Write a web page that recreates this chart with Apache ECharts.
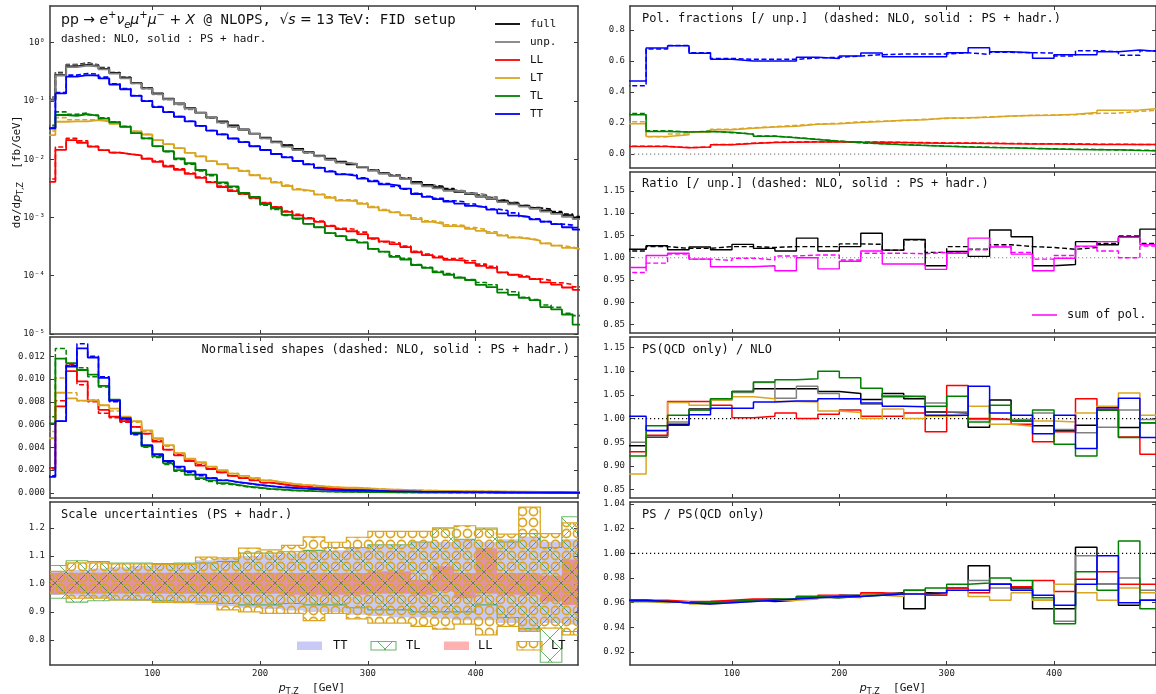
<!DOCTYPE html>
<html>
<head>
<meta charset="utf-8">
<script src="https://cdn.jsdelivr.net/npm/echarts@6/dist/echarts.min.js"></script>
<style>
html,body{margin:0;padding:0;background:#fff;}
#chart{width:1156px;height:694px;}
</style>
</head>
<body>
<div id="chart"></div>
<script>
// ---------- binning ----------
const edges10 = [0,10,20,30,40,50,60,70,80,90,100,110,120,130,140,150,160,170,180,190,200,210,220,230,240,250,260,270,280,290,300,310,320,330,340,350,360,370,380,390,400,410,420,430,440,450,460,470,480,490,500];
const edges20 = [0,20,40,60,80,100,120,140,160,180,200,220,240,260,280,300,320,340,360,380,400,420,440,460,480,500];

// ---------- dσ/dp_T,Z [fb/GeV], 10 GeV bins (PS + hadr. / NLO) ----------
const fullPS  = [0.105,0.278,0.392,0.417,0.398,0.355,0.302,0.251,0.204,0.166,0.135,0.110,0.0912,0.0759,0.0631,0.0525,0.0447,0.0380,0.0324,0.0275,0.0234,0.0200,0.0174,0.0151,0.0132,0.0115,0.0102,0.00912,0.00813,0.00724,0.00646,0.00575,0.00513,0.00457,0.00407,0.00363,0.00331,0.00302,0.00275,0.00251,0.00229,0.00209,0.00191,0.00174,0.00158,0.00145,0.00132,0.00120,0.00110,0.00100];
const fullNLO = [0.116,0.307,0.424,0.451,0.419,0.374,0.308,0.256,0.204,0.166,0.133,0.108,0.0891,0.0742,0.0617,0.0513,0.0437,0.0371,0.0319,0.0270,0.0231,0.0197,0.0174,0.0151,0.0130,0.0113,0.0101,0.00907,0.00830,0.00739,0.00659,0.00587,0.00537,0.00479,0.00403,0.00359,0.00343,0.00313,0.00288,0.00263,0.00242,0.00221,0.00199,0.00181,0.00160,0.00146,0.00139,0.00126,0.00115,0.00104];
const unpPS   = [0.103,0.273,0.382,0.406,0.391,0.349,0.295,0.245,0.200,0.163,0.131,0.107,0.0893,0.0743,0.0622,0.0517,0.0428,0.0364,0.0319,0.0271,0.0228,0.0195,0.0165,0.0143,0.0130,0.0113,0.0098,0.00876,0.00828,0.00737,0.00637,0.00567,0.00511,0.00456,0.00383,0.00342,0.00316,0.00288,0.00280,0.00256,0.00232,0.00212,0.00184,0.00168,0.00154,0.00141,0.00126,0.00115,0.00103,0.00094];
const unpNLO  = [0.113,0.299,0.413,0.438,0.409,0.365,0.301,0.250,0.200,0.163,0.129,0.105,0.0863,0.0718,0.0620,0.0515,0.0417,0.0354,0.0315,0.0268,0.0228,0.0195,0.0166,0.0144,0.0129,0.0112,0.0097,0.00871,0.00833,0.00741,0.00653,0.00582,0.00532,0.00475,0.00399,0.00356,0.00329,0.00300,0.00287,0.00263,0.00247,0.00226,0.00197,0.00180,0.00163,0.00149,0.00129,0.00117,0.00107,0.00098];
const llPS    = [0.0041,0.0145,0.0212,0.0192,0.0165,0.0143,0.0130,0.0122,0.0116,0.0102,0.0090,0.0075,0.0066,0.0056,0.0048,0.0040,0.00334,0.00284,0.00255,0.00217,0.00176,0.00150,0.00125,0.00109,0.00096,0.00084,0.00071,0.00063,0.00058,0.00052,0.00044,0.00039,0.00035,0.00031,0.000253,0.000226,0.000205,0.000187,0.000182,0.000166,0.000148,0.000136,0.000114,0.000104,0.0000955,0.0000874,0.0000769,0.0000702,0.0000628,0.0000573];
const llNLO   = [0.00458,0.0162,0.0228,0.0207,0.0166,0.0143,0.0130,0.0122,0.0117,0.0103,0.00934,0.00778,0.00683,0.00579,0.00493,0.00411,0.00347,0.00295,0.00263,0.00223,0.00180,0.00153,0.00129,0.00113,0.00099,0.00087,0.00073,0.00065,0.00062,0.00056,0.00043,0.00038,0.000364,0.000322,0.000264,0.000235,0.000216,0.000197,0.000199,0.000181,0.000158,0.000145,0.000114,0.000104,0.0000971,0.0000888,0.0000832,0.0000760,0.0000706,0.0000644];
const ltPS    = [0.026,0.044,0.0445,0.0445,0.047,0.0445,0.0405,0.0362,0.0300,0.0266,0.0213,0.0182,0.0155,0.0129,0.0112,0.0093,0.0082,0.0070,0.00625,0.00531,0.00465,0.00398,0.00347,0.00300,0.00283,0.00246,0.00218,0.00194,0.00192,0.00171,0.00149,0.00133,0.00122,0.00109,0.00094,0.00084,0.00078,0.00071,0.00070,0.00064,0.00059,0.00054,0.00049,0.00045,0.00043,0.00040,0.00036,0.00033,0.00030,0.00028];
const ltNLO   = [0.0306,0.0518,0.0475,0.0475,0.0472,0.0447,0.0410,0.0366,0.0301,0.0267,0.0212,0.0181,0.0155,0.0129,0.0112,0.0093,0.0082,0.0070,0.0064,0.00543,0.00477,0.00408,0.00361,0.00312,0.00288,0.00251,0.00227,0.00202,0.00199,0.00177,0.00154,0.00137,0.00124,0.00110,0.00099,0.00088,0.00082,0.00075,0.00073,0.00067,0.00062,0.00057,0.00050,0.00046,0.00044,0.00041,0.00036,0.00033,0.00031,0.00029];
const tlPS    = [0.034,0.0575,0.0558,0.0593,0.0555,0.0496,0.0431,0.0358,0.0280,0.0228,0.0168,0.0137,0.0103,0.00854,0.00653,0.00543,0.00402,0.00342,0.00265,0.00225,0.00169,0.00144,0.00111,0.00096,0.00078,0.00068,0.00054,0.00048,0.00041,0.00037,0.00029,0.00026,0.00021,0.00019,0.000153,0.000137,0.000114,0.000104,0.0000924,0.0000845,0.0000696,0.0000636,0.0000515,0.0000470,0.0000416,0.0000381,0.0000290,0.0000265,0.0000216,0.0000145];
const tlNLO   = [0.0384,0.0649,0.0589,0.0626,0.0573,0.0512,0.0440,0.0366,0.0279,0.0228,0.0165,0.0135,0.00994,0.00824,0.00627,0.00522,0.00385,0.00328,0.00250,0.00213,0.00162,0.00138,0.00108,0.00094,0.00078,0.00068,0.00054,0.00048,0.00042,0.000375,0.000288,0.000258,0.00022,0.000199,0.000155,0.000139,0.000119,0.000109,0.0000944,0.0000863,0.0000765,0.0000699,0.0000581,0.0000530,0.0000425,0.0000389,0.0000314,0.0000287,0.0000227,0.0000207];
const ttPS    = [0.034,0.135,0.261,0.278,0.273,0.244,0.192,0.159,0.122,0.0996,0.0786,0.0642,0.0536,0.0446,0.0373,0.0310,0.0267,0.0227,0.0197,0.0167,0.0144,0.0123,0.0108,0.00932,0.00816,0.00710,0.00615,0.00550,0.00520,0.00463,0.00417,0.00371,0.00351,0.00313,0.00253,0.00226,0.00207,0.00188,0.00173,0.00158,0.00149,0.00136,0.00118,0.00108,0.00102,0.00093,0.00085,0.00077,0.00068,0.00062];
const ttNLO   = [0.0352,0.140,0.278,0.296,0.288,0.257,0.198,0.164,0.124,0.101,0.0800,0.0653,0.0538,0.0448,0.0374,0.0311,0.0267,0.0227,0.0197,0.0167,0.0144,0.0123,0.0109,0.00938,0.00827,0.00719,0.00624,0.00558,0.00537,0.00478,0.00430,0.00383,0.00342,0.00305,0.00260,0.00232,0.00214,0.00194,0.00186,0.00170,0.00154,0.00140,0.00131,0.00120,0.00104,0.00095,0.00085,0.00077,0.00074,0.00067];

// ---------- normalised shapes, 10 GeV bins ----------
const nLLps  = [0.0022,0.0076,0.0107,0.0098,0.0081,0.0073,0.0067,0.0063,0.0058,0.0052,0.0045,0.0038,0.0033,0.0028,0.0024,0.0021,0.0018,0.0015,0.0013,0.0011,0.0009,0.00078,0.00065,0.00056,0.00049,0.00043,0.00037,0.00032,0.00029,0.00026,0.00022,0.0002,0.00018,0.00016,0.00013,0.00012,0.0001,0.000095,0.000092,0.000084,0.000075,0.000069,0.000058,0.000053,0.000048,0.000044,0.000039,0.000035,0.000032,0.000029];
const nLLnlo = [0.0021,0.0081,0.0113,0.0095,0.0080,0.0070,0.0066,0.0062,0.0058,0.0052,0.0046,0.0038,0.0034,0.0029,0.0025,0.0021,0.0018,0.0015,0.0013,0.0011,0.0009,0.00077,0.00065,0.00057,0.0005,0.00044,0.00037,0.00033,0.00031,0.00028,0.00022,0.00019,0.00018,0.00016,0.00013,0.00012,0.00011,0.0001,0.0001,0.00009,0.00008,0.000073,0.000057,0.000052,0.000049,0.000045,0.000042,0.000038,0.000035,0.000032];
const nLTps  = [0.0048,0.0088,0.0083,0.0081,0.0081,0.0077,0.0074,0.0067,0.0063,0.0055,0.0048,0.0042,0.0035,0.0030,0.0027,0.0023,0.0020,0.0017,0.0015,0.0013,0.0011,0.00095,0.00082,0.00071,0.00066,0.00058,0.00051,0.00045,0.00045,0.0004,0.00035,0.00031,0.00028,0.00025,0.00022,0.0002,0.00018,0.00017,0.00016,0.00015,0.00014,0.00013,0.00011,0.0001,0.0001,0.000093,0.000084,0.000077,0.00007,0.000065];
const nLTnlo = [0.0054,0.0101,0.0088,0.0081,0.0082,0.0077,0.0072,0.0066,0.0062,0.0054,0.0047,0.0041,0.0035,0.0030,0.0026,0.0022,0.0019,0.0017,0.0015,0.0013,0.0011,0.00094,0.00083,0.00072,0.00066,0.00058,0.00052,0.00046,0.00046,0.00041,0.00035,0.00031,0.00028,0.00025,0.00023,0.0002,0.00019,0.00017,0.00017,0.00015,0.00014,0.00013,0.00012,0.00011,0.0001,0.000094,0.000083,0.000076,0.000071,0.000067];
const nTLps  = [0.0061,0.0118,0.0114,0.0108,0.0104,0.0094,0.0082,0.0066,0.0053,0.0041,0.0032,0.0026,0.0020,0.0016,0.0013,0.0011,0.00085,0.00070,0.00055,0.00046,0.00035,0.00030,0.00023,0.0002,0.00016,0.00014,0.00011,0.0001,0.000085,0.000077,0.00006,0.000054,0.000044,0.00004,0.000032,0.000028,0.000024,0.000021,0.000019,0.000017,0.000014,0.000013,0.000011,0.00001,0.0000086,0.0000079,0.000006,0.0000055,0.0000045,0.000003];
const nTLnlo = [0.0067,0.0127,0.0112,0.0110,0.0102,0.0093,0.0081,0.0065,0.0052,0.0040,0.0031,0.0025,0.0019,0.0016,0.0012,0.001,0.00077,0.00065,0.0005,0.00042,0.00032,0.00027,0.00021,0.00018,0.00015,0.00013,0.0001,0.000093,0.000081,0.000072,0.000056,0.00005,0.000043,0.000039,0.00003,0.000027,0.000023,0.000021,0.000018,0.000017,0.000015,0.000014,0.000011,0.00001,0.0000082,0.0000075,0.0000061,0.0000056,0.0000044,0.000004];
const nTTps  = [0.0014,0.0063,0.0111,0.0127,0.0119,0.0101,0.0081,0.0065,0.0052,0.0042,0.0034,0.0028,0.0023,0.0019,0.0016,0.0013,0.0011,0.00095,0.00083,0.0007,0.00059,0.00051,0.00045,0.00039,0.00034,0.00029,0.00025,0.00023,0.00021,0.00019,0.00017,0.00015,0.00014,0.00013,0.0001,0.000093,0.000085,0.000077,0.000071,0.000065,0.000061,0.000056,0.000048,0.000044,0.000042,0.000038,0.000035,0.000032,0.000028,0.000025];
const nTTnlo = [0.0015,0.0063,0.0112,0.0131,0.0120,0.0102,0.0080,0.0064,0.0051,0.0041,0.0033,0.0027,0.0022,0.0018,0.0015,0.0013,0.0011,0.00093,0.0008,0.00068,0.00059,0.0005,0.00045,0.00039,0.00034,0.0003,0.00026,0.00023,0.00022,0.0002,0.00018,0.00016,0.00014,0.00013,0.00011,0.000095,0.000088,0.00008,0.000076,0.00007,0.000063,0.000058,0.000054,0.000049,0.000043,0.000039,0.000035,0.000031,0.00003,0.000027];

// ---------- scale-uncertainty envelopes (PS + hadr.), 20 GeV bins ----------
const uncTTlo = [0.960,0.955,0.950,0.945,0.940,0.935,0.930,0.925,0.920,0.915,0.910,0.905,0.900,0.900,0.890,0.885,0.880,0.880,0.875,0.870,0.870,0.860,0.830,0.860,0.855];
const uncTThi = [1.045,1.050,1.055,1.060,1.065,1.070,1.075,1.085,1.090,1.100,1.105,1.110,1.120,1.120,1.130,1.140,1.140,1.150,1.150,1.160,1.150,1.160,1.170,1.150,1.160];
const uncLLlo = [0.965,0.965,0.965,0.965,0.965,0.965,0.965,0.965,0.965,0.965,0.965,0.961,0.961,0.961,0.961,0.965,0.965,0.961,0.973,0.949,0.965,0.961,0.961,0.937,0.925];
const uncLLhi = [1.040,1.040,1.040,1.040,1.040,1.040,1.040,1.040,1.040,1.040,1.040,1.039,1.039,1.039,1.039,1.045,1.045,1.015,1.063,1.039,1.128,1.039,1.039,1.030,1.087];
const uncTLlo = [0.949,0.935,0.940,0.943,0.943,0.940,0.935,0.935,0.930,0.925,0.925,0.930,0.925,0.925,0.915,0.907,0.907,0.900,0.900,0.900,0.925,0.880,0.840,0.720,0.830];
const uncTLhi = [1.066,1.083,1.080,1.075,1.075,1.073,1.075,1.075,1.080,1.110,1.110,1.115,1.120,1.130,1.130,1.140,1.140,1.150,1.200,1.160,1.200,1.150,1.180,1.130,1.240];
const uncLTlo = [0.965,0.949,0.949,0.943,0.943,0.934,0.934,0.934,0.907,0.900,0.895,0.895,0.869,0.895,0.875,0.860,0.860,0.848,0.838,0.856,0.818,0.848,0.830,0.842,0.818];
const uncLThi = [1.045,1.075,1.075,1.072,1.072,1.070,1.070,1.096,1.093,1.128,1.122,1.138,1.168,1.149,1.167,1.188,1.188,1.188,1.200,1.208,1.196,1.178,1.275,1.180,1.218];

// ---------- polarisation fractions (/ unp.), 20 GeV bins ----------
const fLLps  = [0.049,0.049,0.040,0.045,0.060,0.068,0.074,0.076,0.078,0.080,0.077,0.076,0.074,0.072,0.070,0.069,0.068,0.066,0.065,0.065,0.064,0.062,0.062,0.061,0.061];
const fLLnlo = [0.050,0.050,0.042,0.044,0.062,0.070,0.076,0.078,0.080,0.080,0.078,0.077,0.075,0.074,0.072,0.071,0.070,0.068,0.067,0.066,0.066,0.064,0.063,0.062,0.062];
const fLTps  = [0.195,0.113,0.124,0.142,0.156,0.166,0.174,0.180,0.192,0.196,0.204,0.210,0.218,0.222,0.232,0.234,0.238,0.245,0.248,0.250,0.256,0.268,0.282,0.284,0.294];
const fLTnlo = [0.208,0.112,0.130,0.144,0.160,0.170,0.177,0.185,0.194,0.198,0.208,0.212,0.216,0.224,0.230,0.232,0.240,0.244,0.250,0.252,0.254,0.262,0.264,0.276,0.284];
const fTLps  = [0.253,0.146,0.142,0.146,0.140,0.128,0.115,0.105,0.094,0.083,0.074,0.067,0.060,0.055,0.050,0.046,0.042,0.040,0.036,0.033,0.030,0.028,0.027,0.023,0.021];
const fTLnlo = [0.262,0.150,0.142,0.148,0.138,0.130,0.116,0.106,0.095,0.084,0.072,0.067,0.062,0.056,0.051,0.047,0.044,0.040,0.037,0.034,0.031,0.030,0.026,0.025,0.022];
const fTTps  = [0.472,0.684,0.699,0.650,0.611,0.600,0.600,0.600,0.624,0.617,0.633,0.652,0.628,0.628,0.628,0.654,0.686,0.660,0.654,0.618,0.641,0.641,0.660,0.671,0.660];
const fTTnlo = [0.440,0.678,0.700,0.654,0.617,0.611,0.611,0.611,0.620,0.624,0.633,0.641,0.645,0.645,0.645,0.654,0.643,0.656,0.654,0.651,0.633,0.667,0.660,0.637,0.667];

// ---------- ratios to unpolarised, 20 GeV bins ----------
const rFullPS  = [1.019,1.027,1.018,1.024,1.018,1.030,1.021,1.015,1.044,1.015,1.025,1.055,1.017,1.041,0.982,1.014,1.003,1.062,1.047,0.982,0.985,1.036,1.029,1.047,1.064];
const rFullNLO = [1.015,1.025,1.021,1.021,1.025,1.025,1.023,1.025,1.025,1.025,1.031,1.030,1.017,1.040,1.012,1.025,1.019,1.029,1.025,1.023,1.019,1.023,1.032,1.049,1.032];
const rSumPS   = [0.978,1.005,1.010,0.997,0.980,0.980,0.982,0.971,1.000,0.975,0.992,1.015,0.986,0.986,0.974,1.010,1.044,1.024,1.008,0.971,0.999,1.026,1.036,1.046,1.029];
const rSumNLO  = [0.967,0.988,1.008,0.997,0.994,0.999,0.995,1.004,1.006,1.006,0.995,1.010,1.010,1.009,1.012,1.010,1.018,1.026,1.012,0.997,1.005,1.025,1.015,1.000,1.026];

// ---------- PS(QCD only) / NLO, 20 GeV bins ----------
const qFull = [0.943,0.961,0.988,1.020,1.041,1.057,1.063,1.063,1.063,1.057,1.053,1.040,1.053,1.042,1.014,1.012,0.982,1.039,0.995,0.985,0.975,0.986,1.018,0.981,0.991];
const qUnp  = [0.950,0.963,0.993,1.018,1.039,1.055,1.076,1.043,1.068,1.053,1.042,1.030,1.048,1.046,1.033,1.014,0.998,0.998,0.998,1.012,0.977,0.970,0.982,1.018,0.998];
const qLL   = [0.930,0.965,1.036,1.036,1.028,1.002,1.005,1.012,1.000,1.009,1.018,1.005,1.005,1.012,0.972,1.070,1.000,0.998,0.988,0.951,0.972,1.042,1.023,0.961,0.925];
const qLT   = [0.883,0.974,1.034,1.028,1.039,1.046,1.042,1.036,1.035,1.016,1.013,1.000,1.020,1.000,1.005,1.007,1.026,0.988,0.984,0.995,0.993,1.012,1.026,1.054,1.007];
const qTL   = [0.921,0.985,1.007,1.018,1.042,1.057,1.077,1.082,1.084,1.100,1.086,1.064,1.046,1.047,1.026,1.047,0.993,1.028,0.995,1.018,0.946,0.921,1.018,0.960,0.991];
const qTT   = [1.005,0.975,0.986,1.008,1.022,1.022,1.035,1.037,1.037,1.042,1.042,1.033,1.026,1.025,1.007,1.007,1.068,1.012,1.007,0.968,1.007,0.937,1.023,1.043,0.960];

// ---------- PS / PS(QCD only), 20 GeV bins ----------
const hFull = [0.962,0.961,0.960,0.959,0.961,0.962,0.961,0.962,0.965,0.964,0.966,0.967,0.968,0.955,0.968,0.972,0.990,0.975,0.972,0.955,0.955,1.005,0.975,0.958,0.962];
const hUnp  = [0.962,0.961,0.960,0.960,0.961,0.962,0.962,0.963,0.964,0.964,0.965,0.967,0.967,0.967,0.966,0.972,0.978,0.972,0.970,0.962,0.945,0.998,0.975,0.980,0.970];
const hLL   = [0.962,0.962,0.961,0.961,0.962,0.963,0.963,0.962,0.964,0.966,0.965,0.968,0.967,0.970,0.966,0.972,0.968,0.975,0.973,0.978,0.969,0.979,0.985,0.975,0.975];
const hLT   = [0.961,0.960,0.961,0.959,0.960,0.961,0.962,0.962,0.963,0.965,0.964,0.966,0.965,0.967,0.968,0.970,0.965,0.962,0.968,0.962,0.975,0.968,0.962,0.972,0.968];
const hTL   = [0.961,0.961,0.960,0.960,0.961,0.962,0.963,0.963,0.965,0.964,0.965,0.966,0.967,0.970,0.972,0.975,0.976,0.980,0.978,0.964,0.943,0.985,0.970,1.010,0.955];
const hTT   = [0.962,0.961,0.960,0.959,0.960,0.961,0.962,0.963,0.964,0.965,0.965,0.966,0.967,0.967,0.968,0.970,0.970,0.975,0.970,0.966,0.958,0.975,0.998,0.960,0.962];

// ---------- axis ticks ----------
const xTicks = [100,200,300,400];
const yTicksSpec  = [1e-5,1e-4,1e-3,1e-2,1e-1,1];
const yTicksNorm  = [0,0.002,0.004,0.006,0.008,0.010,0.012];
const yTicksUnc   = [0.8,0.9,1.0,1.1,1.2];
const yTicksFrac  = [0,0.2,0.4,0.6,0.8];
const yTicksRatio = [0.85,0.90,0.95,1.00,1.05,1.10,1.15];
const yTicksHad   = [0.92,0.94,0.96,0.98,1.00,1.02,1.04];

// ---------- style ----------
const MONO = '"DejaVu Sans Mono", monospace';
const SANS = '"DejaVu Sans", sans-serif';
const FRAME = '#3a3a3a';
const C = {full:'#000000', unp:'#808080', LL:'#ff0000', LT:'#daa520', TL:'#008000', TT:'#0000ff', sum:'#ff00ff'};
const DASH = [5, 2.6];

const SUP = {'0':'\u2070','1':'\u00b9','2':'\u00b2','3':'\u00b3','4':'\u2074','5':'\u2075','6':'\u2076','-':'\u207b'};
function logLabel(v){
  const e = Math.round(Math.log10(v));
  return '10' + String(e).split('').map(c => SUP[c]).join('');
}

const panels = [
  {left:50,  top:6,   width:528, height:328, log:true, min:1e-5, max:4.27, ticks:yTicksSpec, fmt:logLabel, xl:false},
  {left:50,  top:337, width:528, height:161, min:-0.00045, max:0.0137, ticks:yTicksNorm, fmt:v=>v.toFixed(3), xl:false},
  {left:50,  top:502, width:528, height:163, min:0.71, max:1.293, ticks:yTicksUnc, fmt:v=>v.toFixed(1), xl:true},
  {left:630, top:6,   width:526, height:162, min:-0.09, max:0.955, ticks:yTicksFrac, fmt:v=>v.toFixed(1), xl:false},
  {left:630, top:172, width:526, height:161, min:0.8315, max:1.192, ticks:yTicksRatio, fmt:v=>v.toFixed(2), xl:false},
  {left:630, top:337, width:526, height:161, min:0.8326, max:1.172, ticks:yTicksRatio, fmt:v=>v.toFixed(2), xl:false},
  {left:630, top:502, width:526, height:163, min:0.9095, max:1.0416, ticks:yTicksHad, fmt:v=>v.toFixed(2), xl:true}
];

const grids = [], xAxes = [], yAxes = [];
panels.forEach((p, gi) => {
  grids.push({left:p.left, top:p.top, width:p.width, height:p.height, containLabel:false});
  const line = {show:true, onZero:false, lineStyle:{color:FRAME, width:1.5}};
  const tick = vals => ({show:true, inside:true, length:4, customValues:vals, lineStyle:{color:FRAME, width:1}});
  const lab = (show, vals, fmt, margin) => ({show, customValues:vals, formatter:fmt, margin, fontSize:9, color:'#222', fontFamily:MONO});
  xAxes.push({type:'value', gridIndex:gi, position:'bottom', min:5, max:495, axisLine:line, splitLine:{show:false},
              axisTick:tick(xTicks), axisLabel:lab(p.xl, xTicks, v=>String(v), 4)});
  xAxes.push({type:'value', gridIndex:gi, position:'top', min:5, max:495, axisLine:line, splitLine:{show:false},
              axisTick:tick(xTicks), axisLabel:{show:false}});
  const ytype = p.log ? 'log' : 'value';
  yAxes.push({type:ytype, logBase:10, gridIndex:gi, position:'left', min:p.min, max:p.max, axisLine:line, splitLine:{show:false},
              axisTick:tick(p.ticks), axisLabel:lab(true, p.ticks, p.fmt, 5)});
  yAxes.push({type:ytype, logBase:10, gridIndex:gi, position:'right', min:p.min, max:p.max, axisLine:line, splitLine:{show:false},
              axisTick:tick(p.ticks), axisLabel:{show:false}});
});

// histogram outline: one point per bin edge, drawn as an end-step line
function stepPoints(edges, vals){
  const pts = vals.map((v, i) => [edges[i], v]);
  pts.push([edges[vals.length], vals[vals.length - 1]]);
  return pts;
}
function hist(gi, edges, vals, color, dashed, width, z){
  return {
    type:'line', xAxisIndex:2*gi, yAxisIndex:2*gi, data:stepPoints(edges, vals), step:'end',
    symbol:'none', showSymbol:false, silent:true, animation:false, clip:true, z:z || 2,
    lineStyle:{color, width:width || 1.5, type: dashed ? DASH : 'solid', cap:'butt'}
  };
}
function refLine(gi, yv, color){
  return {
    type:'line', xAxisIndex:2*gi, yAxisIndex:2*gi, data:[[5, yv],[495, yv]], symbol:'none', silent:true, animation:false, z:1,
    lineStyle:{color, width:1.2, type:[1.2, 2.8]}
  };
}

// hatch tiles for the uncertainty envelopes
function circleTile(){
  const c = document.createElement('canvas'); c.width = 11; c.height = 11;
  const g = c.getContext('2d');
  g.strokeStyle = C.LT; g.lineWidth = 1.6;
  g.beginPath(); g.arc(5.5, 5.5, 4.1, 0, 2*Math.PI); g.stroke();
  return c;
}
function crossTile(){
  const c = document.createElement('canvas'); c.width = 22; c.height = 22;
  const g = c.getContext('2d');
  g.strokeStyle = 'rgba(0,128,0,0.75)'; g.lineWidth = 0.8;
  g.beginPath(); g.moveTo(0,0); g.lineTo(22,22); g.moveTo(22,0); g.lineTo(0,22); g.stroke();
  return c;
}
const circlePattern = {image: circleTile(), repeat: 'repeat'};
const crossPattern  = {image: crossTile(),  repeat: 'repeat'};

const bandStyles = {
  TT: {fill:'rgba(120,120,232,0.40)', stroke:'none', lineWidth:0},
  LL: {fill:'rgba(255,80,80,0.45)', stroke:'none', lineWidth:0},
  TL: {fill:crossPattern, stroke:'rgba(60,160,60,0.75)', lineWidth:1.1},
  LT: {fill:circlePattern, stroke:C.LT, lineWidth:1.2}
};

// envelope drawn as one step-shaped polygon through the axis scales
function band(gi, edges, lo, hi, style, z){
  return {
    type:'custom', xAxisIndex:2*gi, yAxisIndex:2*gi, data:[[250, 1]], silent:true, animation:false, clip:true, z,
    renderItem(params, api){
      const pts = [];
      for (let i = 0; i < hi.length; i++){ pts.push(api.coord([edges[i], hi[i]])); pts.push(api.coord([edges[i+1], hi[i]])); }
      for (let i = lo.length - 1; i >= 0; i--){ pts.push(api.coord([edges[i+1], lo[i]])); pts.push(api.coord([edges[i], lo[i]])); }
      const cs = params.coordSys;
      return {
        type:'polygon', shape:{points:pts}, style:Object.assign({}, style),
        clipPath:{type:'rect', shape:{x:cs.x, y:cs.y, width:cs.width, height:cs.height}}
      };
    }
  };
}

const series = [];
// spectrum
[[fullNLO,fullPS,C.full],[unpNLO,unpPS,C.unp],[llNLO,llPS,C.LL],[ltNLO,ltPS,C.LT],[tlNLO,tlPS,C.TL],[ttNLO,ttPS,C.TT]].forEach(([d, s, c]) => {
  series.push(hist(0, edges10, d, c, true, 1.6, 3));
  series.push(hist(0, edges10, s, c, false, 1.8, 4));
});
// normalised shapes
[[nLLnlo,nLLps,C.LL],[nLTnlo,nLTps,C.LT],[nTLnlo,nTLps,C.TL],[nTTnlo,nTTps,C.TT]].forEach(([d, s, c]) => {
  series.push(hist(1, edges10, d, c, true, 1.5, 3));
  series.push(hist(1, edges10, s, c, false, 1.8, 4));
});
// scale uncertainties
series.push(band(2, edges20, uncTTlo, uncTThi, bandStyles.TT, 1));
series.push(band(2, edges20, uncLLlo, uncLLhi, bandStyles.LL, 2));
series.push(band(2, edges20, uncTLlo, uncTLhi, bandStyles.TL, 3));
series.push(band(2, edges20, uncLTlo, uncLThi, bandStyles.LT, 4));
// polarisation fractions
series.push(refLine(3, 0, '#888'));
[[fLLnlo,fLLps,C.LL],[fLTnlo,fLTps,C.LT],[fTLnlo,fTLps,C.TL],[fTTnlo,fTTps,C.TT]].forEach(([d, s, c]) => {
  series.push(hist(3, edges20, d, c, true, 1.5, 3));
  series.push(hist(3, edges20, s, c, false, 1.5, 4));
});
// ratio to unpolarised
series.push(refLine(4, 1, '#888'));
series.push(hist(4, edges20, rFullNLO, C.full, true, 1.4, 3));
series.push(hist(4, edges20, rFullPS, C.full, false, 1.4, 4));
series.push(hist(4, edges20, rSumNLO, C.sum, true, 1.4, 3));
series.push(hist(4, edges20, rSumPS, C.sum, false, 1.4, 4));
// PS(QCD only) / NLO
series.push(refLine(5, 1, '#000'));
[[qFull,C.full],[qUnp,C.unp],[qLL,C.LL],[qLT,C.LT],[qTL,C.TL],[qTT,C.TT]].forEach(([v, c], i) => series.push(hist(5, edges20, v, c, false, 1.5, 3 + i*0.01)));
// PS / PS(QCD only)
series.push(refLine(6, 1, '#000'));
[[hFull,C.full],[hUnp,C.unp],[hLL,C.LL],[hLT,C.LT],[hTL,C.TL],[hTT,C.TT]].forEach(([v, c], i) => series.push(hist(6, edges20, v, c, false, 1.5, 3 + i*0.01)));

// ---------- texts, legends ----------
const T = (x, y, text, size, extra) => ({type:'text', silent:true, z:50, style:Object.assign({x, y, text, font: size + 'px ' + MONO, fill:'#111', textVerticalAlign:'middle'}, extra || {})});
const L = (x1, y, x2, color, w) => ({type:'line', silent:true, z:50, shape:{x1, y1:y, x2, y2:y}, style:{stroke:color, lineWidth:w || 1.8}});

const graphic = [];
// title
graphic.push({type:'text', silent:true, z:50, style:{
  x:61, y:20, textVerticalAlign:'middle', fill:'#111',
  text:'{r|pp \u2192 }{i|e}{sp|+}{i|\u03bd}{sb|e}{i|\u03bc}{sp|+}{i|\u03bc}{sp|\u2212}{r| + }{i|X}{m| @ NLOPS, }{r|\u221a}{i|s}{r| = 13 TeV}{m|: FID setup}',
  rich:{
    r:{font:'14px ' + SANS, lineHeight:20, verticalAlign:'middle'},
    i:{font:'italic 14px ' + SANS, lineHeight:20, verticalAlign:'middle'},
    m:{font:'14px ' + MONO, lineHeight:20, verticalAlign:'middle'},
    sp:{font:'10px ' + SANS, lineHeight:20, verticalAlign:'top'},
    sb:{font:'italic 10px ' + SANS, lineHeight:20, verticalAlign:'bottom'}
  }
}});
graphic.push(T(61, 39, 'dashed: NLO, solid : PS + hadr.', 11));
// spectrum legend
[['full',C.full],['unp.',C.unp],['LL',C.LL],['LT',C.LT],['TL',C.TL],['TT',C.TT]].forEach(([name, c], i) => {
  const y = 24 + i*18;
  graphic.push(L(495, y, 520, c, 1.8));
  graphic.push(T(530, y, name, 11));
});
// panel captions
graphic.push(T(570, 349.5, 'Normalised shapes (dashed: NLO, solid : PS + hadr.)', 12, {textAlign:'right'}));
graphic.push(T(61, 515, 'Scale uncertainties (PS + hadr.)', 12));
graphic.push(T(642, 18.7, 'Pol. fractions [/ unp.]  (dashed: NLO, solid : PS + hadr.)', 12));
graphic.push(T(642, 184.3, 'Ratio [/ unp.] (dashed: NLO, solid : PS + hadr.)', 12));
graphic.push(T(642, 349.7, 'PS(QCD only) / NLO', 12));
graphic.push(T(642, 514.5, 'PS / PS(QCD only)', 12));
// sum-of-pol legend
graphic.push(L(1032, 315, 1057, C.sum, 1.5));
graphic.push(T(1067, 315, 'sum of pol.', 12));
// uncertainty legend
[['TT', 297, 333],['TL', 371, 406],['LL', 444, 478],['LT', 517, 551]].forEach(([k, px, tx]) => {
  graphic.push({type:'rect', silent:true, z:40, shape:{x:px, y:641.5, width:25, height:8.5}, style:Object.assign({}, bandStyles[k])});
  graphic.push(T(tx, 646, k, 12));
});
// axis titles
const axisRich = {
  n:{font:'11px ' + MONO, lineHeight:16, verticalAlign:'middle'},
  i:{font:'italic 11px ' + SANS, lineHeight:16, verticalAlign:'middle'},
  s:{font:'8px ' + SANS, lineHeight:16, verticalAlign:'bottom'}
};
graphic.push({type:'text', silent:true, z:50, x:17, y:172, rotation:Math.PI/2, style:{
  x:0, y:0, textAlign:'center', textVerticalAlign:'middle', fill:'#111',
  text:'{n|d\u03c3/d}{i|p}{s|T,Z}{n|  [fb/GeV]}', rich:axisRich
}});
[312, 893].forEach(cx => graphic.push({type:'text', silent:true, z:50, style:{
  x:cx, y:688, textAlign:'center', textVerticalAlign:'middle', fill:'#111',
  text:'{i|p}{s|T,Z}{n|  [GeV]}', rich:axisRich
}}));

const chart = echarts.init(document.getElementById('chart'), null, {renderer:'canvas'});
chart.setOption({
  animation:false,
  backgroundColor:'#ffffff',
  grid:grids, xAxis:xAxes, yAxis:yAxes, series, graphic
});
</script>
</body>
</html>
